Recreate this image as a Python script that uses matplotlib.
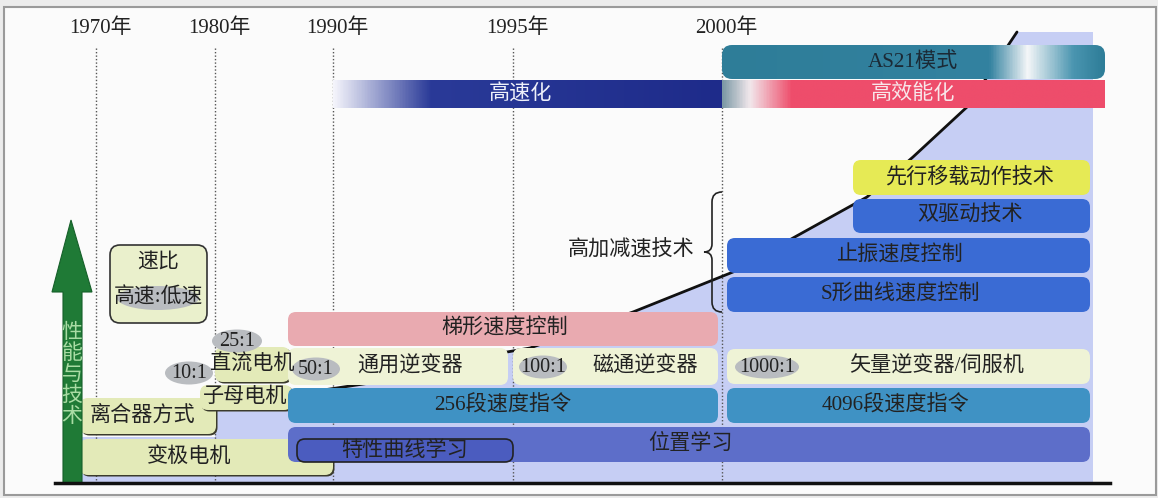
import numpy as np
import matplotlib
matplotlib.use('Agg')
from matplotlib import pyplot as plt
from matplotlib.patches import FancyBboxPatch, Ellipse, Polygon, Rectangle, PathPatch
from matplotlib.path import Path
from matplotlib.colors import LinearSegmentedColormap

plt.rcParams['font.family'] = ['Liberation Serif', 'Noto Sans CJK SC', 'DejaVu Sans']

# timeline
years = ['1970年', '1980年', '1990年', '1995年', '2000年']
year_x = [96, 215, 333, 513, 722]

# technology bars
tech_labels = ['变极电机', '离合器方式', '子母电机', '直流电机', '梯形速度控制', '通用逆变器',
               '磁通逆变器', '256段速度指令', '位置学习', '特性曲线学习', '先行移载动作技术',
               '双驱动技术', '止振速度控制', 'S形曲线速度控制', '矢量逆变器/伺服机', '4096段速度指令']
tech_x0 = [80, 80, 200, 215, 288, 288, 513, 288, 288, 297, 853, 853, 727, 727, 727, 727]
tech_x1 = [333, 216, 292, 290, 718, 508, 718, 718, 1090, 513, 1090, 1090, 1090, 1090, 1090, 1090]
tech_y0 = [439, 398, 385, 347, 312, 348, 348, 388, 427, 439, 160, 199, 238, 277, 349, 388]
tech_y1 = [475, 434, 410, 382, 346, 385, 385, 423, 462, 462, 195, 233, 273, 312, 384, 423]
tech_text_x = [189, 142, 245, 252, 505, 410, 645, 503, 690, 405, 970, 970, 900, 900, 937, 895]
tech_colors = ['#e3eab8', '#e3eab8', '#e3eab8', '#e3eab8', '#e9aab0', '#eff3d6', '#eff3d6',
               '#3f92c4', '#5d6ec9', '#4b5cbf', '#e6ea55', '#3a6bd4', '#3a6bd4', '#3a6bd4',
               '#eff3d6', '#3f92c4']
tech_shadow = [True, True, True, True] + [False] * 12

# speed ratio labels
ratio_labels = ['10:1', '25:1', '50:1', '100:1', '1000:1']
ratio_x = [189, 237, 316, 543, 767]
ratio_y = [373, 341, 369, 367, 367]
ratio_w = [48, 50, 48, 48, 64]

# performance curve
curve_x = [290, 370, 507, 530, 633, 733, 793, 867, 913, 967, 1017]
curve_y = [395, 383, 352, 348, 312, 272, 238, 197, 157, 107, 32]

fig = plt.figure(figsize=(11.58, 4.98), dpi=100, facecolor='#ececec')
ax = fig.add_axes([0, 0, 1, 1])
ax.set_xlim(0, 1158)
ax.set_ylim(498, 0)
ax.axis('off')

ax.add_patch(Rectangle((4, 7), 1152, 488, facecolor='#fbfbfb', edgecolor='#9a9a9a', lw=1.5, zorder=0))

# blue performance area
area = [(80, 483), (80, 437), (215, 437), (215, 410), (290, 405)] + list(zip(curve_x, curve_y)) \
    + [(1093, 32), (1093, 483)]
ax.add_patch(Polygon(area, closed=True, facecolor='#c6cef4', edgecolor='none', zorder=1))
ax.plot(curve_x, curve_y, color='#111111', lw=2, zorder=3, solid_capstyle='round')

# year lines
for lab, x in zip(years, year_x):
    ax.plot([x, x], [48, 483], color='#555555', lw=1, ls=(0, (1, 1.5)), zorder=2)
    ax.text(x + 4, 28, lab, ha='center', va='center', fontsize=15, color='#222222')

ax.plot([55, 1110], [483, 483], color='#111111', lw=2.5, zorder=6)

# green arrow
arrow = [(63, 483), (63, 292), (52, 292), (71, 220), (92, 292), (82, 292), (82, 483)]
ax.add_patch(Polygon(arrow, closed=True, facecolor='#1f7a36', edgecolor='#16602a', lw=0.8, zorder=5))
for i, ch in enumerate('性能与技术'):
    ax.text(72, 333 + i * 21, ch, ha='center', va='center', fontsize=15, color='#a9dca4', zorder=6)

# speed ratio legend box
ax.add_patch(FancyBboxPatch((110, 245), 97, 78, boxstyle='round,pad=0,rounding_size=10',
                            facecolor='#eaf0cc', edgecolor='#333333', lw=1.2, zorder=4))
ax.text(158, 263, '速比', ha='center', va='center', fontsize=15, color='#222222', zorder=6)
ax.add_patch(Ellipse((158, 298), 82, 24, facecolor='#b9bcc0', edgecolor='none', zorder=5))
ax.text(158, 298, '高速:低速', ha='center', va='center', fontsize=15, color='#222222', zorder=6)

# bars
for lab, x0, x1, y0, y1, tx, c, sh in zip(tech_labels, tech_x0, tech_x1, tech_y0, tech_y1,
                                          tech_text_x, tech_colors, tech_shadow):
    if sh:
        ax.add_patch(FancyBboxPatch((x0 + 1.5, y0 + 1.5), x1 - x0, y1 - y0,
                                    boxstyle='round,pad=0,rounding_size=8',
                                    facecolor='#3b3b2c', edgecolor='none', zorder=4))
    edge = '#222222' if lab == '特性曲线学习' else 'none'
    ax.add_patch(FancyBboxPatch((x0, y0), x1 - x0, y1 - y0, boxstyle='round,pad=0,rounding_size=8',
                                facecolor=c, edgecolor=edge, lw=1.2, zorder=4))
    ax.text(tx, (y0 + y1) / 2, lab, ha='center', va='center', fontsize=15.2, color='#222222', zorder=6)

for lab, x, y, w in zip(ratio_labels, ratio_x, ratio_y, ratio_w):
    ax.add_patch(Ellipse((x, y), w, 23, facecolor='#b9bcc0', edgecolor='none', zorder=5))
    ax.text(x, y, lab, ha='center', va='center', fontsize=14.5, color='#222222', zorder=6)


def grad_bar(x0, x1, y0, y1, stops, rounded):
    cmap = LinearSegmentedColormap.from_list('g', stops)
    g = np.linspace(0, 1, 400)[None, :]
    im = ax.imshow(g, cmap=cmap, extent=(x0, x1, y1, y0), aspect='auto', zorder=4,
                   interpolation='bilinear')
    if rounded:
        clip = FancyBboxPatch((x0, y0), x1 - x0, y1 - y0, boxstyle='round,pad=0,rounding_size=10',
                              facecolor='none', edgecolor='none', transform=ax.transData)
        ax.add_patch(clip)
        im.set_clip_path(clip)


grad_bar(333, 722, 80, 108, [(0, '#f4f4fb'), (0.25, '#2a3a98'), (1, '#1e2b8a')], False)
ax.text(520, 94, '高速化', ha='center', va='center', fontsize=15.2, color='#eef0fa', zorder=6)
grad_bar(722, 1105, 80, 108, [(0, '#7d9aa6'), (0.07, '#f2e8ec'), (0.18, '#ee4d6b'), (1, '#ee4d6b')],
         False)
ax.text(913, 94, '高效能化', ha='center', va='center', fontsize=15.2, color='#f8e6ea', zorder=6)
grad_bar(722, 1105, 45, 79, [(0, '#2e7d98'), (0.70, '#3382a0'), (0.80, '#f4f6f8'), (0.92, '#4a95b0'),
                             (1, '#2e7d98')], True)
ax.text(913, 62, 'AS21模式', ha='center', va='center', fontsize=15.2, color='#1b2a36', zorder=6)

# brace for high acceleration techniques
verts = [(722, 192), (712, 192), (712, 202), (712, 244), (712, 252), (704, 252),
         (712, 252), (712, 260), (712, 302), (712, 312), (722, 312)]
codes = [Path.MOVETO, Path.CURVE3, Path.CURVE3, Path.LINETO, Path.CURVE3, Path.CURVE3,
         Path.CURVE3, Path.CURVE3, Path.LINETO, Path.CURVE3, Path.CURVE3]
ax.add_patch(PathPatch(Path(verts, codes), facecolor='none', edgecolor='#222222', lw=1.2, zorder=5))
ax.text(631, 251, '高加减速技术', ha='center', va='center', fontsize=15.2, color='#222222', zorder=6)

ax.set_xlim(0, 1158)
ax.set_ylim(498, 0)
fig.savefig('out.png', dpi=100, facecolor=fig.get_facecolor())
